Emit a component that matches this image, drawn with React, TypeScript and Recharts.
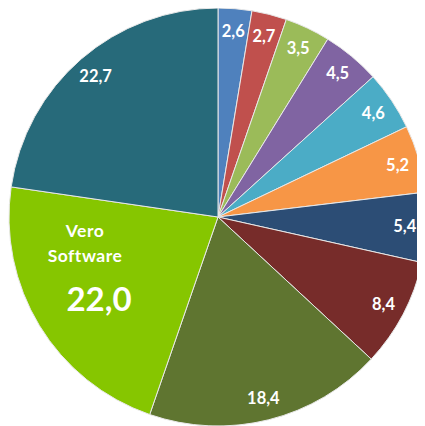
import React from "react";
import { PieChart, Pie, Cell } from "recharts";

const categories = ["A", "B", "C", "D", "E", "F", "G", "H", "I", "Vero Software", "K"];
const values = [2.6, 2.7, 3.5, 4.5, 4.6, 5.2, 5.4, 8.4, 18.4, 22.0, 22.7];
const labels = ["2,6", "2,7", "3,5", "4,5", "4,6", "5,2", "5,4", "8,4", "18,4", "22,0", "22,7"];
const colors = ["#4F81BD", "#C0504D", "#9BBB59", "#8064A2", "#4BACC6", "#F79646", "#2C4D75", "#772C2A", "#5F7530", "#86C600", "#276A7A"];

const data = categories.map((c, i) => ({ name: c, value: values[i], label: labels[i] }));

const RAD = Math.PI / 180;
const FONT = "Lato, 'Open Sans', sans-serif";

const renderLabel = (props: any) => {
  const { cx, cy, midAngle, index } = props;
  const d = data[index];
  if (d.name === "Vero Software") {
    return (
      <g>
        <text x={85} y={237} fill="#fff" fontFamily={FONT} fontWeight="bold" fontSize={17.5} letterSpacing={0.5} textAnchor="middle">Vero</text>
        <text x={85} y={262} fill="#fff" fontFamily={FONT} fontWeight="bold" fontSize={17.5} letterSpacing={0.5} textAnchor="middle">Software</text>
        <text x={99} y={311} fill="#fff" fontFamily={FONT} fontWeight="bold" fontSize={33} textAnchor="middle">{d.label}</text>
      </g>
    );
  }
  const r = 187;
  const x = cx + r * Math.cos(-midAngle * RAD);
  const y = cy + r * Math.sin(-midAngle * RAD);
  return (
    <text x={x} y={y} fill="#fff" fontFamily={FONT} fontWeight="bold" fontSize={16.5} textAnchor="middle" dominantBaseline="central">
      {d.label}
    </text>
  );
};

export default function App() {
  return (
    <div style={{ marginLeft: -8, marginTop: -8, width: 425, height: 426 }}>
      <PieChart width={425} height={426} margin={{ top: 0, right: 0, bottom: 0, left: 0 }}>
        <Pie
          data={data}
          dataKey="value"
          cx={218}
          cy={217}
          outerRadius={209}
          startAngle={90}
          endAngle={-270}
          stroke="#E8E8E8"
          strokeWidth={1}
          labelLine={false}
          label={renderLabel}
          isAnimationActive={false}
        >
          {data.map((d, i) => (
            <Cell key={d.name} fill={colors[i]} />
          ))}
        </Pie>
      </PieChart>
    </div>
  );
}
